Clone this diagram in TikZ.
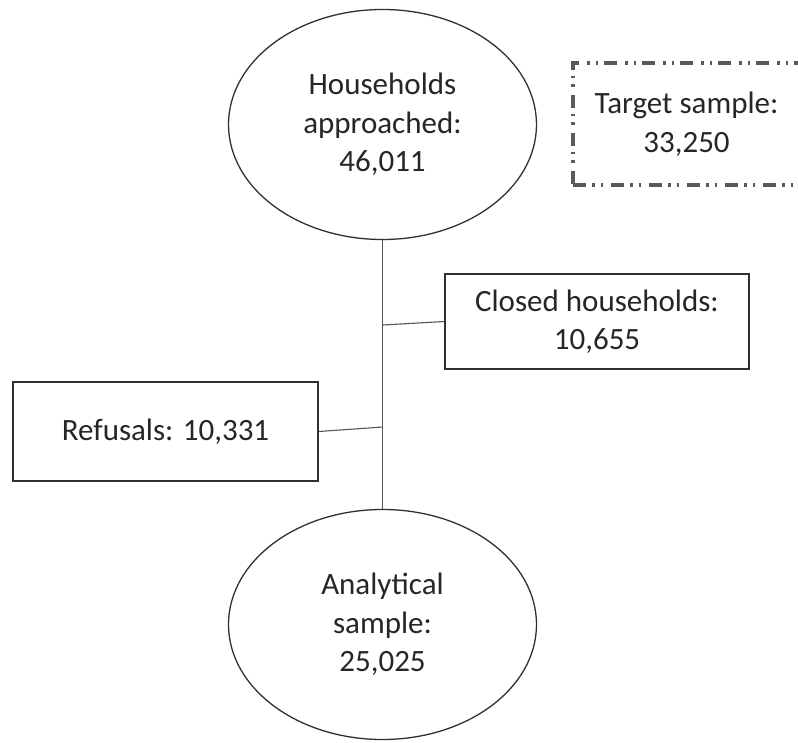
\documentclass[tikz,border=0pt]{standalone}
\usepackage{fontspec}
\setmainfont{Carlito}
\usetikzlibrary{shapes.geometric}
\definecolor{txt}{HTML}{262626}
\definecolor{edge}{HTML}{303030}
\definecolor{conn}{HTML}{555555}
\definecolor{dashc}{HTML}{5A5A5A}
\tikzset{
  oval/.style={ellipse, draw=edge, line width=1.3pt, minimum width=308pt, minimum height=230pt, inner sep=0pt, align=center, text=txt, font=\fontsize{31}{38.5}\selectfont},
  rectbox/.style={rectangle, draw=edge, line width=1.5pt, inner sep=0pt, align=center, text=txt, font=\fontsize{31}{38.5}\selectfont},
  dashbox/.style={rectangle, draw=dashc, line width=3.2pt, dash pattern=on 13pt off 6pt on 2.5pt off 6pt on 2.5pt off 8pt, inner sep=0pt, align=center, text=txt, font=\fontsize{31}{38.5}\selectfont},
  link/.style={draw=conn, line width=1.1pt}
}
\begin{document}
\begin{tikzpicture}[x=1pt,y=-1pt]
\clip (0,0) rectangle (798,743);
\fill[white] (0,0) rectangle (798,743);
\node[oval] (top) at (382.5,124.5) {Households\\approached:\\46,011};
\node[oval] (bot) at (382.5,624.5) {Analytical\\sample:\\25,025};
\node[rectbox, minimum width=304pt, minimum height=95pt] (closed) at (597,321.5) {Closed households:\\10,655};
\node[rectbox, minimum width=305pt, minimum height=99pt] (refusal) at (165.5,431.5) {Refusals: 10,331};
\node[dashbox, minimum width=227pt, minimum height=122pt] (target) at (686.5,124) {Target sample:\\33,250};
\coordinate (j1) at (383,325);
\coordinate (j2) at (383,427);
\draw[link] (top.south) -- (bot.north);
\draw[link] (closed.west) -- (j1);
\draw[link] (refusal.east) -- (j2);
\end{tikzpicture}
\end{document}
